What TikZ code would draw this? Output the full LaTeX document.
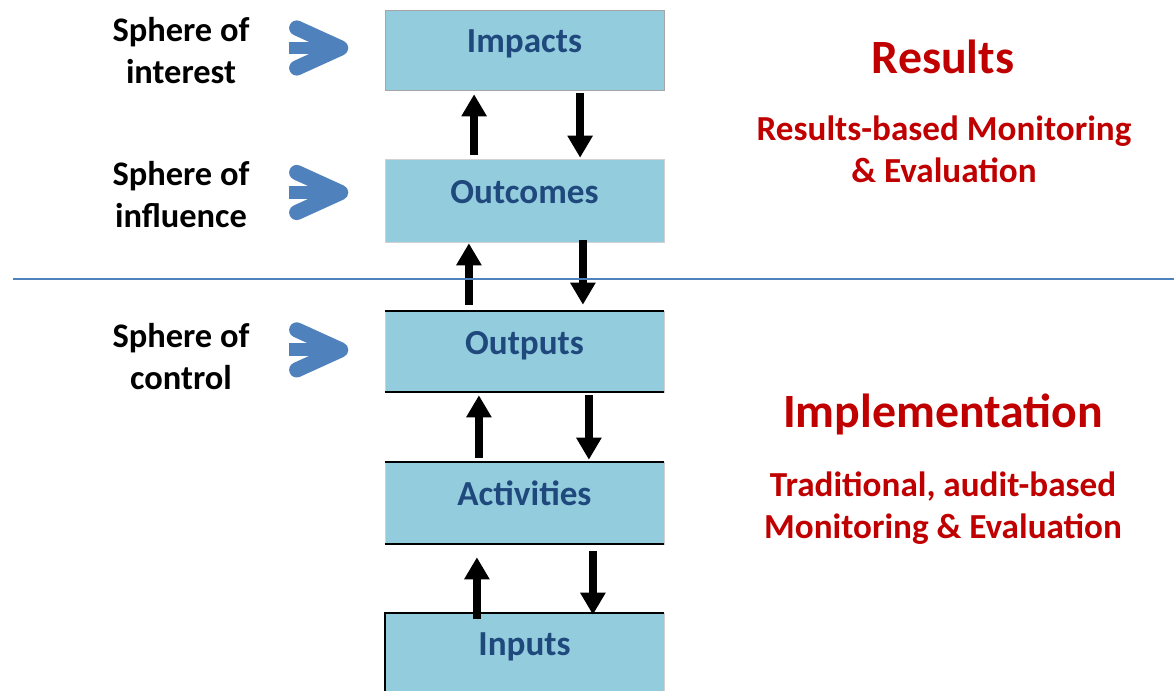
\documentclass[tikz,border=0pt]{standalone}
\usepackage{fontspec}
\setmainfont{Carlito}
\usepackage{xcolor}
\usetikzlibrary{arrows.meta}
\definecolor{boxblue}{HTML}{93CDDD}
\definecolor{textblue}{HTML}{1F497D}
\definecolor{lineblue}{HTML}{4F81BD}
\definecolor{resred}{HTML}{C00000}

\begin{document}
\begin{tikzpicture}
\tikzstyle{stage} = [draw=gray!35,fill=boxblue,minimum width=6.975cm,minimum height=2.05cm,inner sep=0pt,text height=0.7cm,text depth=0.55cm,font=\fontsize{25}{30}\selectfont\bfseries,text=textblue];
\tikzstyle{sphere} = [align=center,font=\fontsize{24.5}{29.9}\selectfont\bfseries];
\tikzstyle{pointer} = [draw=lineblue,line width=0.32cm];
\tikzstyle{chevron} = [draw=lineblue,line width=0.38cm,line cap=round,line join=round];
\tikzstyle{flow} = [line width=0.2cm,-{Triangle[length=0.55cm,width=0.6cm]}];
\tikzstyle{title} = [text=resred,font=\fontsize{34}{40}\selectfont\bfseries];
\tikzstyle{subtitle} = [text=resred,align=center,font=\fontsize{25}{29.9}\selectfont\bfseries];
\useasboundingbox (0,0) rectangle (29.35,-17.275);

% the chain of result levels
\node[stage,minimum height=2cm,draw=gray!70] (impacts) at (13.1125,-1.25) {Impacts};
\node[stage,minimum height=2.075cm] (outcomes) at (13.1125,-5.0125) {Outcomes};
\node[stage,minimum height=2.025cm] (outputs) at (13.1125,-8.7875) {Outputs};
\node[stage] (activities) at (13.1125,-12.575) {Activities};
\node[stage,minimum height=2cm] (inputs) at (13.1125,-16.325) {Inputs};
\foreach \n in {outputs,activities} {
  \draw[line width=1.4pt] (\n.north west) -- (\n.north east);
  \draw[line width=1.4pt] (\n.south west) -- (\n.south east);
}
\draw[line width=1.4pt] (inputs.south west) -- (inputs.north west) -- (inputs.north east);

% up and down arrows between the levels
\foreach \lo/\hi/\up/\dn/\a/\b/\c/\d in {outcomes/impacts/-1.26/1.39/0.1/0.1/0.075/0.025,
    outputs/outcomes/-1.39/1.46/0.15/0.025/-0.05/0.15,
    activities/outputs/-1.14/1.61/0.1/0.075/0.075/0.05,
    inputs/activities/-1.19/1.71/-0.15/0.325/0.175/-0.05} {
  \draw[flow,shorten <=\a cm,shorten >=\b cm] ([xshift=\up cm]\lo.north) -- ([xshift=\up cm]\hi.south);
  \draw[flow,shorten <=\c cm,shorten >=\d cm] ([xshift=\dn cm]\hi.south) -- ([xshift=\dn cm]\lo.north);
}

% spheres on the left
\node[sphere] (interest) at (4.525,-1.275) {Sphere of\\interest};
\node[sphere] (influence) at (4.525,-4.875) {Sphere of\\influence};
\node[sphere] (control) at (4.525,-8.925) {Sphere of\\control};
\foreach \n/\dy in {impacts/0.05,outcomes/0.2,outputs/0.04} {
  \coordinate (tip) at ([xshift=-1.1cm,yshift=\dy cm]\n.west);
  \draw[pointer] ([xshift=-2.4cm,yshift=\dy cm]\n.west) -- ([xshift=-0.2cm]tip);
  \draw[chevron] ([xshift=-1.1cm,yshift=0.5cm]tip) -- (tip) -- ([xshift=-1.1cm,yshift=-0.5cm]tip);
}

% divider between results and implementation
\coordinate (divL) at (0.325,-6.975);
\coordinate (divR) at (29.35,-6.975);
\draw[lineblue,line width=1.2pt] (divL) -- (divR);

\node[title] (results) at (23.575,-1.425) {Results};
\node[subtitle] (resultsme) at (23.6,-3.725) {Results-based Monitoring\\\& Evaluation};
\node[title] (impl) at (23.575,-10.35) {Implementation};
\node[subtitle] (tradme) at (23.575,-12.7125) {Traditional, audit-based\\Monitoring \& Evaluation};
\end{tikzpicture}
\end{document}
